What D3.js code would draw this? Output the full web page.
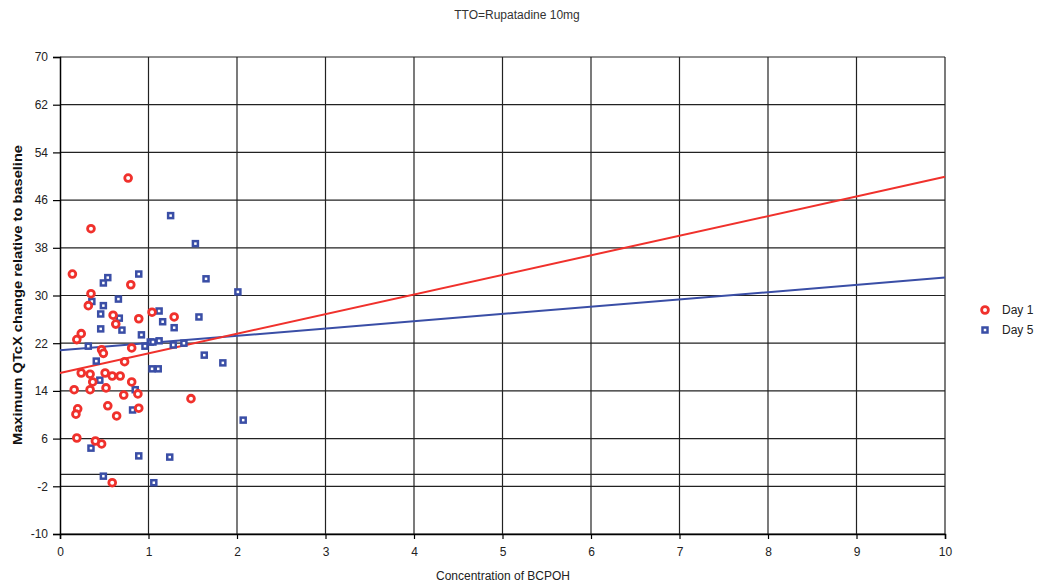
<!DOCTYPE html>
<html>
<head>
<meta charset="utf-8">
<script src="https://cdn.jsdelivr.net/npm/d3@7"></script>
<style>
  body { margin: 0; background: #fff; }
  text { font-family: "Liberation Sans", Arial, sans-serif; }
</style>
</head>
<body>
<div id="chart"></div>
<script>
// Day 1 (red circles)
const day1X = [0.77, 0.35, 0.14, 0.80, 0.35, 0.32, 0.60, 0.89, 1.04, 0.63, 0.24, 0.19, 0.81, 0.47, 0.49,
  0.73, 0.24, 0.34, 0.51, 0.59, 0.68, 0.37, 0.81, 0.16, 0.34, 0.52, 0.72, 0.88, 0.20, 0.18, 0.54,
  0.89, 0.64, 0.19, 0.40, 0.47, 0.59, 1.29, 1.48];
const day1Y = [49.7, 41.2, 33.6, 31.8, 30.3, 28.3, 26.7, 26.1, 27.2, 25.2, 23.6, 22.6, 21.2, 20.9, 20.3,
  18.9, 17.0, 16.8, 17.0, 16.5, 16.5, 15.5, 15.5, 14.2, 14.2, 14.5, 13.3, 13.5, 11.0, 10.1, 11.5,
  11.1, 9.8, 6.1, 5.6, 5.1, -1.4, 26.4, 12.7];

// Day 5 (blue squares)
const day5X = [0.54, 0.49, 0.89, 0.36, 0.66, 0.49, 0.46, 0.67, 0.46, 0.70, 0.92, 1.02, 0.96, 0.32, 0.41,
  1.04, 0.45, 0.85, 0.82, 0.35, 0.89, 0.49, 1.06, 1.25, 1.53, 1.65, 2.01, 1.12, 1.16, 1.29, 1.57,
  1.05, 1.12, 1.28, 1.40, 1.63, 1.84, 1.11, 2.07, 1.24];
const day5Y = [33.0, 32.1, 33.6, 29.0, 29.4, 28.3, 26.9, 26.2, 24.4, 24.2, 23.4, 22.2, 21.5, 21.5, 19.0,
  17.7, 15.8, 14.2, 10.8, 4.4, 3.1, -0.3, -1.4, 43.4, 38.7, 32.8, 30.6, 27.4, 25.6, 24.6, 26.4,
  22.2, 22.4, 21.7, 22.0, 20.0, 18.7, 17.7, 9.1, 2.9];

// linear trend lines, read at x = 0 and x = 10
const trendX = [0, 10];
const day1Trend = [17.0, 49.9];
const day5Trend = [20.8, 33.0];

const xTicks = [0, 1, 2, 3, 4, 5, 6, 7, 8, 9, 10];
const yTicks = [-10, -2, 6, 14, 22, 30, 38, 46, 54, 62, 70];
const seriesNames = ["Day 1", "Day 5"];

const W = 1039, H = 584;
const red = "#f0312c", blue = "#3a4ea6";

const svg = d3.select("#chart").append("svg")
  .attr("width", W)
  .attr("height", H);

const x = d3.scaleLinear().domain([0, 10]).range([60, 945]);
const y = d3.scaleLinear().domain([-10, 70]).range([534, 57]);

// grid
svg.append("g")
  .selectAll("line.h")
  .data(yTicks.concat([0]))
  .enter().append("line")
  .attr("x1", x(0)).attr("x2", x(10))
  .attr("y1", d => y(d)).attr("y2", d => y(d))
  .attr("stroke", "#222").attr("stroke-width", 1.2);

svg.append("g")
  .selectAll("line.v")
  .data(xTicks.slice(1))
  .enter().append("line")
  .attr("x1", d => x(d)).attr("x2", d => x(d))
  .attr("y1", y(70)).attr("y2", y(-10))
  .attr("stroke", "#222").attr("stroke-width", 1.2);

// axes
const yAxis = svg.append("g")
  .attr("transform", `translate(${x(0)},0)`)
  .call(d3.axisLeft(y).tickValues(yTicks).tickFormat(d => String(d)).tickSize(7).tickPadding(5));
const xAxis = svg.append("g")
  .attr("transform", `translate(0,${y(-10)})`)
  .call(d3.axisBottom(x).tickValues(xTicks).tickFormat(d => String(d)).tickSize(5).tickPadding(8));

[yAxis, xAxis].forEach(g => {
  g.select(".domain").attr("stroke", "#000").attr("stroke-width", 1.5);
  g.selectAll(".tick line").attr("stroke", "#000").attr("stroke-width", 1.2);
  g.selectAll(".tick text")
    .attr("fill", "#222")
    .style("font-size", "12px")
    .style("font-family", "Liberation Sans, Arial, sans-serif");
});

// trend lines
const trendLine = (vals) => d3.line()
  .x((d, i) => x(trendX[i]))
  .y(d => y(d))(vals);

svg.append("path")
  .attr("d", trendLine(day5Trend))
  .attr("fill", "none").attr("stroke", blue).attr("stroke-width", 2);
svg.append("path")
  .attr("d", trendLine(day1Trend))
  .attr("fill", "none").attr("stroke", red).attr("stroke-width", 2);

// Day 5 markers
svg.append("g")
  .selectAll("rect")
  .data(day5X.map((d, i) => [d, day5Y[i]]))
  .enter().append("rect")
  .attr("x", d => x(d[0]) - 2.5)
  .attr("y", d => y(d[1]) - 2.5)
  .attr("width", 5).attr("height", 5)
  .attr("fill", "#fff")
  .attr("stroke", blue).attr("stroke-width", 2.5);

// Day 1 markers
svg.append("g")
  .selectAll("circle")
  .data(day1X.map((d, i) => [d, day1Y[i]]))
  .enter().append("circle")
  .attr("cx", d => x(d[0]))
  .attr("cy", d => y(d[1]))
  .attr("r", 3.4)
  .attr("fill", "#fff")
  .attr("stroke", red).attr("stroke-width", 2.8);

// legend
const legend = svg.append("g").attr("transform", "translate(985,310)");
seriesNames.forEach((name, i) => {
  const gy = i * 20;
  if (i === 0) {
    legend.append("circle").attr("cx", 0).attr("cy", gy).attr("r", 3.4)
      .attr("fill", "#fff").attr("stroke", red).attr("stroke-width", 2.8);
  } else {
    legend.append("rect").attr("x", -2.5).attr("y", gy - 2.5).attr("width", 5).attr("height", 5)
      .attr("fill", "#fff").attr("stroke", blue).attr("stroke-width", 2.5);
  }
  legend.append("text").attr("x", 17).attr("y", gy + 4)
    .style("font-size", "12px").attr("fill", "#222").text(name);
});

// titles
svg.append("text")
  .attr("x", 517).attr("y", 19)
  .attr("text-anchor", "middle")
  .style("font-size", "12px").attr("fill", "#333")
  .text("TTO=Rupatadine 10mg");

svg.append("text")
  .attr("x", 503).attr("y", 580)
  .attr("text-anchor", "middle")
  .style("font-size", "12px").attr("fill", "#222")
  .text("Concentration of BCPOH");

svg.append("text")
  .attr("transform", "translate(22,295) rotate(-90)")
  .attr("text-anchor", "middle")
  .attr("textLength", 300).attr("lengthAdjust", "spacingAndGlyphs")
  .style("font-size", "12px").style("font-weight", "bold").attr("fill", "#111")
  .text("Maximum QTcX change relative to baseline");
</script>
</body>
</html>
